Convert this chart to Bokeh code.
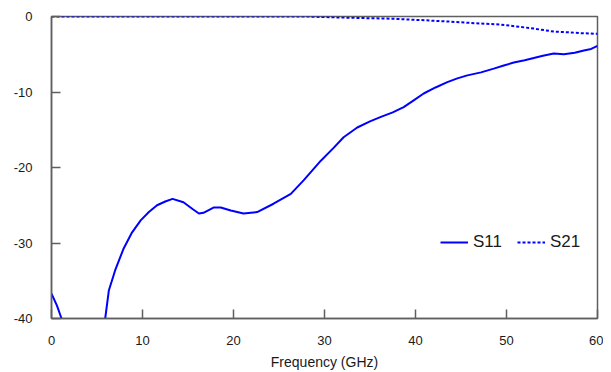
from bokeh.plotting import figure
from bokeh.models import Range1d, FixedTicker, Legend, LegendItem, CustomJSTickFormatter
from bokeh.embed import file_html
from bokeh.resources import INLINE

# ---- data ----
s11_freq = [0, 0.6, 1.1, 2, 3, 4, 5, 5.9, 6.3, 7.0, 7.9, 8.8, 9.8, 10.7, 11.6, 12.5,
            13.3, 14.5, 15.5, 16.2, 16.7, 17.8, 18.6, 19.7, 21.1, 22.6, 24.4, 26.3,
            27.7, 29.6, 31.0, 32.1, 33.6, 35.0, 36.2, 37.5, 38.7, 39.8, 40.9, 42.2,
            43.5, 44.6, 45.7, 47.2, 48.6, 49.7, 50.8, 52.0, 53.0, 54.0, 55.2, 56.3,
            57.5, 58.5, 59.3, 60.0]
s11_db = [-36.7, -38.3, -40.0, -43, -46, -46.5, -44, -40.0, -36.3, -33.6, -30.8, -28.7,
          -27.0, -25.9, -25.0, -24.5, -24.15, -24.6, -25.5, -26.1, -26.0, -25.3, -25.3,
          -25.7, -26.1, -25.9, -24.8, -23.5, -21.7, -19.1, -17.4, -16.0, -14.7, -13.9,
          -13.3, -12.7, -12.0, -11.1, -10.2, -9.4, -8.7, -8.2, -7.8, -7.4, -6.9, -6.5,
          -6.1, -5.8, -5.5, -5.2, -4.9, -5.0, -4.8, -4.5, -4.3, -3.9]

s21_freq = [0, 10, 20, 28, 30.7, 34, 37.6, 41, 43.5, 46, 49.3, 51, 53, 55.2, 57, 58.1, 60]
s21_db = [0, 0, 0, 0, -0.1, -0.2, -0.3, -0.5, -0.66, -0.85, -1.06, -1.3, -1.6, -2.0,
          -2.1, -2.2, -2.3]

x_ticks = [0, 10, 20, 30, 40, 50, 60]
y_ticks = [-40, -30, -20, -10, 0]

FONT = "Liberation Sans"
TEXT = "#1a1a1a"
FRAME = "#5f5f5f"
BLUE = "#0000ff"

p = figure(width=603, height=372, output_backend="svg", toolbar_location=None,
           x_range=Range1d(0, 60), y_range=Range1d(-40, 0),
           min_border_left=51, min_border_top=16, min_border_right=6, min_border_bottom=54)

p.background_fill_color = "white"
p.border_fill_color = "white"
p.outline_line_color = FRAME
p.outline_line_width = 1.5
p.xgrid.visible = False
p.ygrid.visible = False

r1 = p.line(s11_freq, s11_db, line_color=BLUE, line_width=2)
r2 = p.line(s21_freq, s21_db, line_color=BLUE, line_width=2, line_dash="3 2")

fmt = CustomJSTickFormatter(code="return String(tick);")
for ax in (p.xaxis[0], p.yaxis[0]):
    ax.axis_line_color = FRAME
    ax.axis_line_width = 1.5
    ax.major_tick_line_color = FRAME
    ax.major_tick_line_width = 1.5
    ax.major_tick_in = 9
    ax.major_tick_out = 0
    ax.minor_tick_line_color = None
    ax.major_label_text_font = FONT
    ax.major_label_text_font_size = "13px"
    ax.major_label_text_color = TEXT
    ax.formatter = fmt

p.xaxis[0].ticker = FixedTicker(ticks=x_ticks)
p.yaxis[0].ticker = FixedTicker(ticks=y_ticks)
p.xaxis[0].major_label_standoff = 17
p.yaxis[0].major_label_standoff = 19
p.xaxis[0].axis_label = "Frequency (GHz)"
p.xaxis[0].axis_label_text_font = FONT
p.xaxis[0].axis_label_text_font_size = "14px"
p.xaxis[0].axis_label_text_font_style = "normal"
p.xaxis[0].axis_label_text_color = TEXT
p.xaxis[0].axis_label_standoff = 6

legend = Legend(items=[LegendItem(label="S11", renderers=[r1]),
                       LegendItem(label="S21", renderers=[r2])],
                orientation="horizontal", location=(389, 66),
                label_text_font=FONT, label_text_font_size="17px",
                label_text_color=TEXT, glyph_width=28, glyph_height=20,
                label_standoff=5, spacing=15, padding=0, margin=0,
                border_line_color=None, background_fill_alpha=0)
p.add_layout(legend, "center")

open("out.html", "w").write(file_html(p, INLINE))
